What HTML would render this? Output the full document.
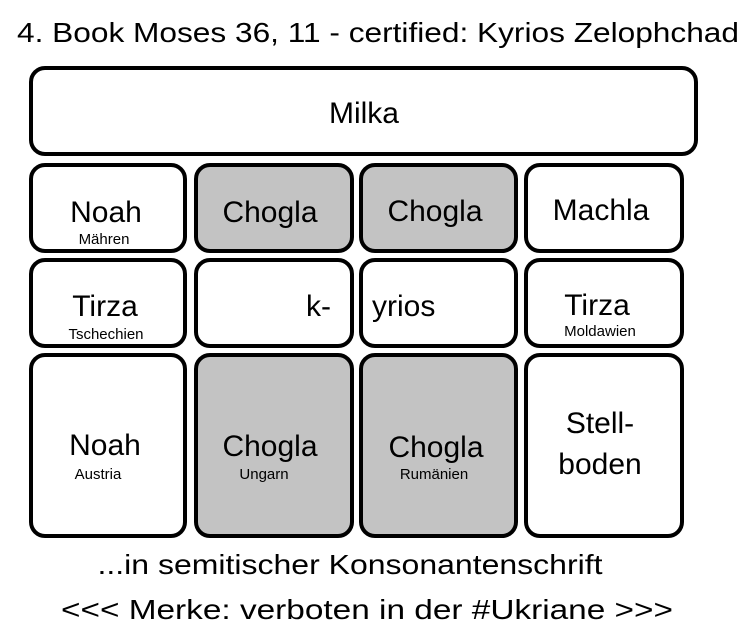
<!DOCTYPE html>
<html><head><meta charset="utf-8"><style>html,body{margin:0;padding:0;background:#fff;width:755px;height:644px;overflow:hidden}</style></head>
<body>
<svg width="755" height="644" xmlns="http://www.w3.org/2000/svg" font-family="Liberation Sans, DejaVu Sans, sans-serif" fill="#000">
<g stroke="#000" stroke-width="4">
<rect x="31" y="68" width="665" height="86" rx="14" fill="#fff"/>
<rect x="31" y="165" width="154" height="86" rx="14" fill="#fff"/>
<rect x="196" y="165" width="156" height="86" rx="14" fill="#c3c3c3"/>
<rect x="361" y="165" width="155" height="86" rx="14" fill="#c3c3c3"/>
<rect x="526" y="165" width="156" height="86" rx="14" fill="#fff"/>
<rect x="31" y="260" width="154" height="86" rx="14" fill="#fff"/>
<rect x="196" y="260" width="156" height="86" rx="14" fill="#fff"/>
<rect x="361" y="260" width="155" height="86" rx="14" fill="#fff"/>
<rect x="526" y="260" width="156" height="86" rx="14" fill="#fff"/>
<rect x="31" y="355" width="154" height="181" rx="14" fill="#fff"/>
<rect x="196" y="355" width="156" height="181" rx="14" fill="#c3c3c3"/>
<rect x="361" y="355" width="155" height="181" rx="14" fill="#c3c3c3"/>
<rect x="526" y="355" width="156" height="181" rx="14" fill="#fff"/>
</g>
<g text-anchor="middle" font-size="30">
<text x="378" y="42" font-size="28" textLength="722" lengthAdjust="spacingAndGlyphs">4. Book Moses 36, 11 - certified: Kyrios Zelophchad</text>
<text x="364" y="123">Milka</text>
<text x="106" y="222">Noah</text>
<text x="270" y="222">Chogla</text>
<text x="435" y="221">Chogla</text>
<text x="601" y="220">Machla</text>
<text x="105" y="316">Tirza</text>
<text x="597" y="315">Tirza</text>
<text x="105" y="455">Noah</text>
<text x="270" y="456">Chogla</text>
<text x="436" y="457">Chogla</text>
<text x="600" y="433">Stell-</text>
<text x="600" y="474">boden</text>
<text x="350" y="574" font-size="28" textLength="505" lengthAdjust="spacingAndGlyphs">...in semitischer Konsonantenschrift</text>
<text x="367" y="619" font-size="28" textLength="612" lengthAdjust="spacingAndGlyphs">&lt;&lt;&lt; Merke: verboten in der #Ukriane &gt;&gt;&gt;</text>
</g>
<text x="331" y="316" font-size="30" text-anchor="end">k-</text>
<text x="372" y="316" font-size="30">yrios</text>
<g text-anchor="middle" font-size="15">
<text x="104" y="244">Mähren</text>
<text x="106" y="339">Tschechien</text>
<text x="600" y="336">Moldawien</text>
<text x="98" y="479">Austria</text>
<text x="264" y="479">Ungarn</text>
<text x="434" y="479">Rumänien</text>
</g>
</svg>
</body></html>
